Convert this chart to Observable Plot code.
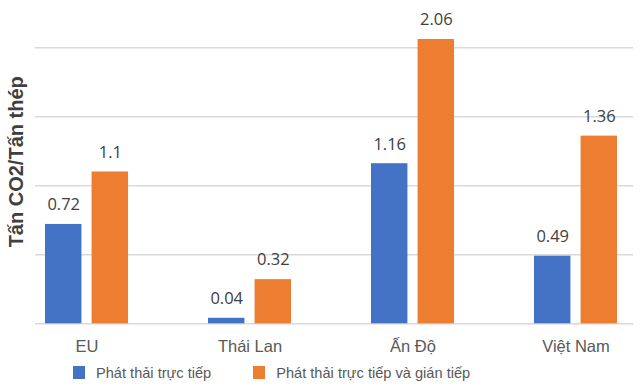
<!DOCTYPE html>
<html><head><meta charset="utf-8">
<script src="https://cdn.jsdelivr.net/npm/d3@7"></script>
<script src="https://cdn.jsdelivr.net/npm/@observablehq/plot@0.6"></script>
<style>
body{margin:0;background:#fff;}
#chart svg{display:block;}
#legend{display:flex;align-items:center;height:35px;padding-left:73px;font-family:"Liberation Sans",Arial,sans-serif;font-size:14.6px;color:#595959;}
.item{display:flex;align-items:center;margin-right:42px;}
.sw{width:12px;height:13px;margin-right:11px;}
</style></head><body>
<div id="chart"></div>
<div id="legend"></div>
<script>
const countries = ["EU", "Thái Lan", "Ấn Độ", "Việt Nam"];
const direct = [0.72, 0.04, 1.16, 0.49];
const total = [1.1, 0.32, 2.06, 1.36];
const seriesNames = ["Phát thải trực tiếp", "Phát thải trực tiếp và gián tiếp"];
const colors = ["#4472c4", "#ed7d31"];
const gridTicks = [0, 0.5, 1, 1.5, 2];
const yLabel = "Tấn CO2/Tấn thép";

const dataDirect = countries.map((c, i) => ({country: c, value: direct[i]}));
const dataTotal = countries.map((c, i) => ({country: c, value: total[i]}));

const bw = 163.25, off = 23.3, half = 18.35;
const inNear = bw / 2 - off - half;
const inFar = bw / 2 + off - half;
const valueStyle = {fontSize: 16.5, fill: "#404040", fontFamily: "'Open Sans', sans-serif", dy: -19.5};

const chart = Plot.plot({
  width: 640, height: 355,
  marginLeft: 35, marginRight: 7, marginTop: 47.3, marginBottom: 31.7,
  style: {fontFamily: "'Liberation Sans', Arial, sans-serif", background: "#fff"},
  x: {domain: countries, range: [4.1, 657.35], padding: 0},
  y: {domain: [0, 2], axis: null},
  marks: [
    Plot.ruleY(gridTicks, {stroke: "#d9d9d9", strokeWidth: 1.5}),
    Plot.barY(dataDirect, {x: "country", y: "value", fill: colors[0], insetLeft: inNear, insetRight: inFar}),
    Plot.barY(dataTotal, {x: "country", y: "value", fill: colors[1], insetLeft: inFar, insetRight: inNear}),
    Plot.text(dataDirect, {x: "country", y: "value", text: d => String(d.value), dx: -off, ...valueStyle}),
    Plot.text(dataTotal, {x: "country", y: "value", text: d => String(d.value), dx: off, ...valueStyle}),
    Plot.axisX({tickSize: 0, tickPadding: 16, fontSize: 16.5, fill: "#595959", label: null}),
    Plot.text([yLabel], {text: d => d, frameAnchor: "left", textAnchor: "middle", rotate: -90, dx: -19, dy: -24, fontSize: 20, fontWeight: "bold", fill: "#404040"})
  ]
});
document.getElementById("chart").appendChild(chart);

const legend = document.getElementById("legend");
seriesNames.forEach((name, i) => {
  const item = document.createElement("div");
  item.className = "item";
  const sw = document.createElement("span");
  sw.className = "sw";
  sw.style.background = colors[i];
  const label = document.createElement("span");
  label.textContent = name;
  item.appendChild(sw);
  item.appendChild(label);
  legend.appendChild(item);
});
</script>
</body></html>
